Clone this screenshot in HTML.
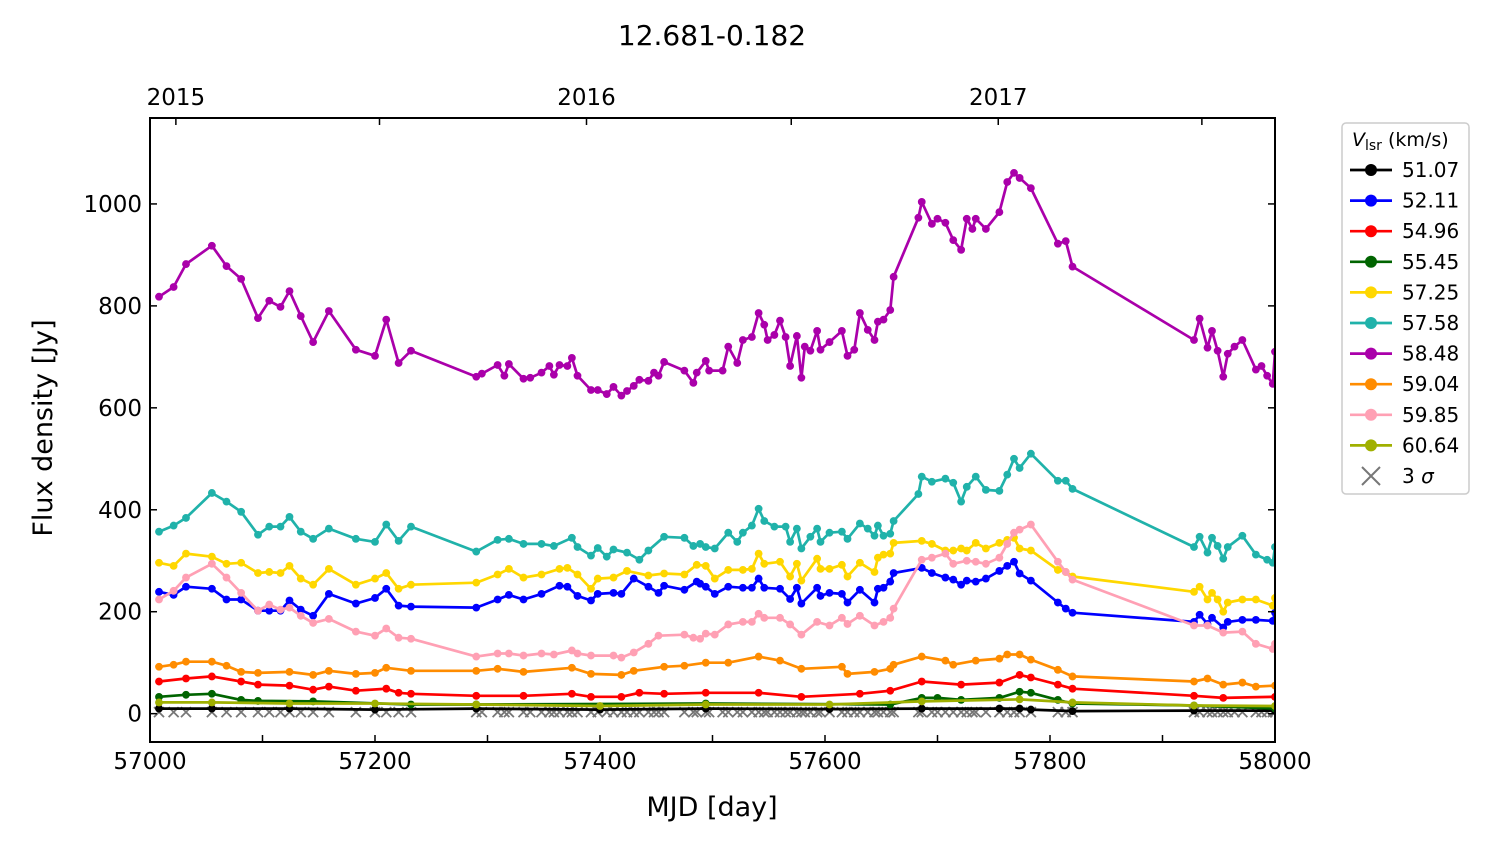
<!DOCTYPE html>
<html><head><meta charset="utf-8"><style>
html,body{margin:0;padding:0;background:#fff;width:1500px;height:844px;overflow:hidden}
svg{font-family:"DejaVu Sans","Liberation Sans",sans-serif}
</style></head><body>
<svg id="chart" width="1500" height="844" viewBox="0 0 1500 844" xmlns="http://www.w3.org/2000/svg">
<text x="712" y="45" font-size="28" text-anchor="middle">12.681-0.182</text>
<text x="712" y="816" font-size="27" text-anchor="middle">MJD [day]</text>
<text transform="translate(52,428) rotate(-90)" font-size="27" text-anchor="middle">Flux density [Jy]</text>
<defs><clipPath id="pc"><rect x="150" y="118" width="1125" height="624"/></clipPath></defs>
<g id="series" clip-path="url(#pc)"></g>
<rect x="150" y="118" width="1125" height="624" fill="none" stroke="#000" stroke-width="2"/>
<g id="axes"></g>
<g id="legend">
<rect x="1342" y="123" width="127" height="371" rx="4" fill="#fff" stroke="#ccc" stroke-width="1.5"/>
<text x="1352" y="146" font-size="19"><tspan font-style="italic">V</tspan><tspan font-size="14" dy="4">lsr</tspan><tspan dy="-4"> (km/s)</tspan></text>
</g>
</svg>
<script>
const xDomain=[57000,58000];
const yDomain=[-55.6,1168.6];
const xTicks=[57000,57100,57200,57300,57400,57500,57600,57700,57800,57900,58000];
const xTickLabels=["57000","","57200","","57400","","57600","","57800","","58000"];
const yTicks=[0,200,400,600,800,1000];
const yTickLabels=["0","200","400","600","800","1000"];
const yearTicks=[57023,57204,57388,57570,57754,57935];
const yearLabels=["2015","","2016","","2017",""];
const seriesNames=["51.07","52.11","54.96","55.45","57.25","57.58","58.48","59.04","59.85","60.64"];
const seriesColors=["#000000","#0000ff","#ff0000","#006400","#ffd700","#20b2aa","#aa00aa","#ff8c00","#ffa0b4","#a0b000"];

const mjdPurple=[57008,57021,57032,57055,57068,57081,57096,57106,57116,57124,57134,57145,57159,57183,57200,57210,57221,57232,57290,57295,57309,57315,57319,57332,57338,57348,57355,57359,57364,57371,57375,57380,57392,57398,57406,57412,57419,57424,57430,57435,57443,57448,57452,57457,57475,57483,57486,57494,57497,57509,57514,57522,57527,57535,57541,57546,57549,57555,57560,57565,57569,57575,57579,57582,57587,57593,57596,57604,57615,57620,57626,57631,57638,57644,57647,57652,57658,57661,57683,57686,57695,57700,57707,57714,57721,57726,57731,57734,57743,57755,57762,57768,57773,57783,57807,57814,57820,57928,57933,57940,57944,57949,57954,57958,57964,57971,57983,57988,57993,57998,58000];
const valPurple=[818,837,882,918,878,853,776,810,798,829,780,729,790,714,702,773,688,712,661,667,684,663,686,657,659,669,682,665,684,682,698,663,635,635,627,641,624,633,643,655,653,669,663,690,673,649,669,692,673,673,720,688,733,739,786,763,733,743,771,739,682,741,659,720,712,751,714,729,751,702,714,786,753,733,769,773,792,857,973,1004,961,971,963,929,910,971,951,971,951,984,1043,1061,1051,1031,922,927,877,733,775,718,751,712,661,706,720,733,675,682,663,647,710];

const mjdTeal=[57008,57021,57032,57055,57068,57081,57096,57106,57116,57124,57134,57145,57159,57183,57200,57210,57221,57232,57290,57309,57319,57332,57348,57359,57375,57380,57392,57398,57406,57412,57424,57435,57443,57457,57475,57483,57489,57494,57502,57514,57522,57527,57535,57541,57546,57555,57565,57569,57575,57579,57587,57593,57596,57604,57615,57620,57631,57638,57644,57647,57652,57658,57661,57683,57686,57695,57707,57714,57721,57726,57734,57743,57755,57762,57768,57773,57783,57807,57814,57820,57928,57933,57940,57944,57949,57954,57958,57971,57983,57993,57998,58000];
const valTeal=[357,369,384,433,416,396,351,367,367,386,357,343,363,343,337,371,339,367,318,341,343,333,333,329,345,327,310,325,308,322,316,302,320,347,345,329,333,327,324,355,337,355,369,402,378,367,367,337,363,324,347,363,337,355,357,343,373,363,349,369,349,353,378,431,465,455,461,453,416,445,465,439,437,469,500,482,510,457,457,441,327,347,316,345,329,304,327,349,312,302,296,327];

const mjdYellow=[57008,57021,57032,57055,57068,57081,57096,57106,57116,57124,57134,57145,57159,57183,57200,57210,57221,57232,57290,57309,57319,57332,57348,57364,57371,57380,57392,57398,57412,57424,57443,57457,57475,57486,57494,57502,57514,57527,57535,57541,57546,57560,57569,57575,57579,57593,57596,57604,57615,57620,57631,57644,57647,57652,57658,57661,57686,57695,57707,57714,57721,57726,57734,57743,57755,57762,57768,57773,57783,57807,57814,57820,57928,57933,57940,57944,57949,57954,57958,57971,57983,57998,58000];
const valYellow=[296,290,314,308,294,296,276,278,276,290,265,253,284,253,265,276,245,253,257,273,284,267,273,284,286,273,245,265,267,280,271,275,273,292,290,265,282,282,284,314,294,298,269,294,261,304,284,284,292,269,296,278,306,312,314,335,339,333,320,320,324,320,335,324,335,341,345,324,320,282,278,269,239,249,224,237,224,200,218,224,224,212,227];

const mjdBlue=[57008,57021,57032,57055,57068,57081,57096,57106,57116,57124,57134,57145,57159,57183,57200,57210,57221,57232,57290,57309,57319,57332,57348,57364,57371,57380,57392,57398,57412,57419,57430,57443,57452,57457,57475,57486,57489,57494,57502,57514,57527,57535,57541,57546,57560,57569,57575,57579,57593,57596,57604,57615,57620,57631,57644,57647,57652,57658,57661,57686,57695,57707,57714,57721,57726,57734,57743,57755,57762,57768,57773,57783,57807,57814,57820,57928,57933,57940,57944,57954,57958,57971,57983,57998,58000];
const valBlue=[239,233,249,245,224,224,202,202,202,222,204,192,235,216,227,245,212,210,208,224,233,224,235,251,249,231,222,235,237,235,265,249,237,251,243,259,255,249,235,249,247,247,265,247,245,225,247,216,247,231,237,235,218,243,218,245,247,259,276,286,276,267,263,253,261,259,265,280,290,298,275,261,218,206,198,180,194,176,188,169,180,184,184,182,198];

const mjdPink=[57008,57021,57032,57055,57068,57081,57096,57106,57116,57124,57134,57145,57159,57183,57200,57210,57221,57232,57290,57309,57319,57332,57348,57359,57375,57380,57392,57412,57419,57430,57443,57452,57475,57483,57489,57494,57502,57514,57527,57535,57541,57546,57560,57569,57579,57593,57604,57615,57620,57631,57644,57652,57658,57661,57686,57695,57707,57714,57726,57734,57743,57755,57762,57768,57773,57783,57807,57814,57820,57928,57940,57954,57971,57983,57998,58000];
const valPink=[224,241,267,294,267,237,202,214,204,208,192,178,186,161,153,167,149,147,112,118,118,114,118,116,124,118,114,114,110,120,137,153,155,149,147,157,155,175,180,180,196,188,188,175,155,180,173,188,176,192,173,180,188,206,302,306,314,294,300,298,294,306,333,355,361,371,298,278,263,173,173,159,161,137,127,137];

const mjdOrange=[57008,57021,57032,57055,57068,57081,57096,57124,57145,57159,57183,57200,57210,57232,57290,57309,57332,57375,57392,57419,57430,57457,57475,57494,57514,57541,57560,57579,57615,57620,57644,57658,57661,57686,57707,57714,57734,57755,57762,57773,57783,57807,57820,57928,57940,57954,57971,57983,58000];
const valOrange=[92,96,102,102,94,82,80,82,76,84,78,80,90,84,84,88,82,90,78,76,84,92,94,100,100,112,104,88,92,78,82,88,96,112,104,96,104,108,116,116,106,86,73,63,69,57,61,53,55];

const mjdRed=[57008,57032,57055,57081,57096,57124,57145,57159,57183,57210,57221,57232,57290,57332,57375,57392,57419,57435,57457,57494,57541,57579,57631,57658,57686,57721,57755,57773,57783,57807,57820,57928,57954,58000];
const valRed=[63,69,73,63,57,55,47,53,45,49,41,39,35,35,39,33,33,41,39,41,41,33,39,45,63,57,61,76,71,57,49,35,31,33];

const mjdGreen=[57008,57032,57055,57081,57096,57145,57232,57290,57494,57658,57686,57700,57721,57755,57773,57783,57807,57820,57928,58000];
const valGreen=[33,37,39,27,25,24,18,18,20,18,31,31,27,31,43,41,27,20,16,10];

const mjdOlive=[57008,57055,57124,57200,57290,57400,57494,57604,57686,57773,57820,57928,58000];
const valOlive=[22,22,20,20,18,15,18,18,24,28,22,16,15];

const mjdBlack=[57008,57055,57124,57200,57290,57400,57494,57604,57686,57755,57773,57783,57820,57928,58000];
const valBlack=[10,10,10,8,10,8,10,9,10,10,10,8,5,6,6];

const mjdSigma=mjdPurple;
const valSigma=mjdPurple.map(()=>3);

const NS="http://www.w3.org/2000/svg";
function xs(v){return 150+(v-xDomain[0])/(xDomain[1]-xDomain[0])*1125;}
function ys(v){return 742-(v-yDomain[0])/(yDomain[1]-yDomain[0])*624;}
function mk(tag,attrs,parent){const e=document.createElementNS(NS,tag);for(const k in attrs)e.setAttribute(k,attrs[k]);parent.appendChild(e);return e;}

const axes=document.getElementById('axes');
xTicks.forEach((t,i)=>{
  const x=xs(t);
  const tb=mk('line',{x1:x,x2:x,y1:742,y2:735,stroke:'#000','stroke-width':1.5},axes);
  
  
  if(xTickLabels[i]){
    const tx=mk('text',{x:x,y:769,'font-size':23,'text-anchor':'middle'},axes);
    tx.textContent=xTickLabels[i];
    
    
  }
});
yTicks.forEach((t,i)=>{
  const y=ys(t);
  const l1=mk('line',{x1:150,x2:157,y1:y,y2:y,stroke:'#000','stroke-width':1.5},axes);
  
  
  const l2=mk('line',{x1:1268,x2:1275,y1:y,y2:y,stroke:'#000','stroke-width':1.5},axes);
  
  
  const tx=mk('text',{x:142,y:y+8,'font-size':23,'text-anchor':'end'},axes);
  tx.textContent=yTickLabels[i];
  
  
});
yearTicks.forEach((t,i)=>{
  const x=xs(t);
  const l=mk('line',{x1:x,x2:x,y1:118,y2:125,stroke:'#000','stroke-width':1.5},axes);
  
  
  if(yearLabels[i]){
    const tx=mk('text',{x:x,y:105,'font-size':23,'text-anchor':'middle'},axes);
    tx.textContent=yearLabels[i];
    
    
  }
});

const sg=document.getElementById('series');
const seriesData=[[mjdBlack,valBlack],[mjdBlue,valBlue],[mjdRed,valRed],[mjdGreen,valGreen],[mjdYellow,valYellow],[mjdTeal,valTeal],[mjdPurple,valPurple],[mjdOrange,valOrange],[mjdPink,valPink],[mjdOlive,valOlive]];
const drawOrder=[0,1,2,3,4,5,6,7,8,9];
const cg=mk('g',{},sg);


mjdSigma.forEach((m,i)=>{
  const x=xs(m),y=ys(valSigma[i]);
  const p=mk('path',{d:`M${x-5},${y-5}L${x+5},${y+5}M${x-5},${y+5}L${x+5},${y-5}`,stroke:'#777','stroke-width':1.8},cg);
  
  
});
drawOrder.forEach(si=>{
  const [mx,vy]=seriesData[si];
  const g=mk('g',{},sg);
  
  
  const pts=mx.map((m,i)=>xs(m).toFixed(1)+','+ys(vy[i]).toFixed(1)).join(' ');
  const pl=mk('polyline',{points:pts,fill:'none',stroke:seriesColors[si],'stroke-width':2.7,'stroke-linejoin':'round'},g);
  
  
  mx.forEach((m,i)=>{
    const c=mk('circle',{cx:xs(m),cy:ys(vy[i]),r:3.9,fill:seriesColors[si]},g);
    
    
  });
});

const lg=document.getElementById('legend');
seriesNames.forEach((n,i)=>{
  const y=170+i*30.6;
  const e=mk('g',{},lg);
  
  
  mk('line',{x1:1350,x2:1392,y1:y,y2:y,stroke:seriesColors[i],'stroke-width':2.7},e);
  mk('circle',{cx:1371,cy:y,r:6,fill:seriesColors[i]},e);
  const t=mk('text',{x:1402,y:y+7,'font-size':20},e);
  t.textContent=n;
});
{
  const y=170+10*30.6;
  const e=mk('g',{},lg);
  
  
  mk('path',{d:`M1362,${y-9}L1380,${y+9}M1362,${y+9}L1380,${y-9}`,stroke:'#777','stroke-width':2},e);
  const t=mk('text',{x:1402,y:y+7,'font-size':20},e);
  t.innerHTML='3 <tspan font-style="italic">σ</tspan>';
}
</script>
</body></html>
